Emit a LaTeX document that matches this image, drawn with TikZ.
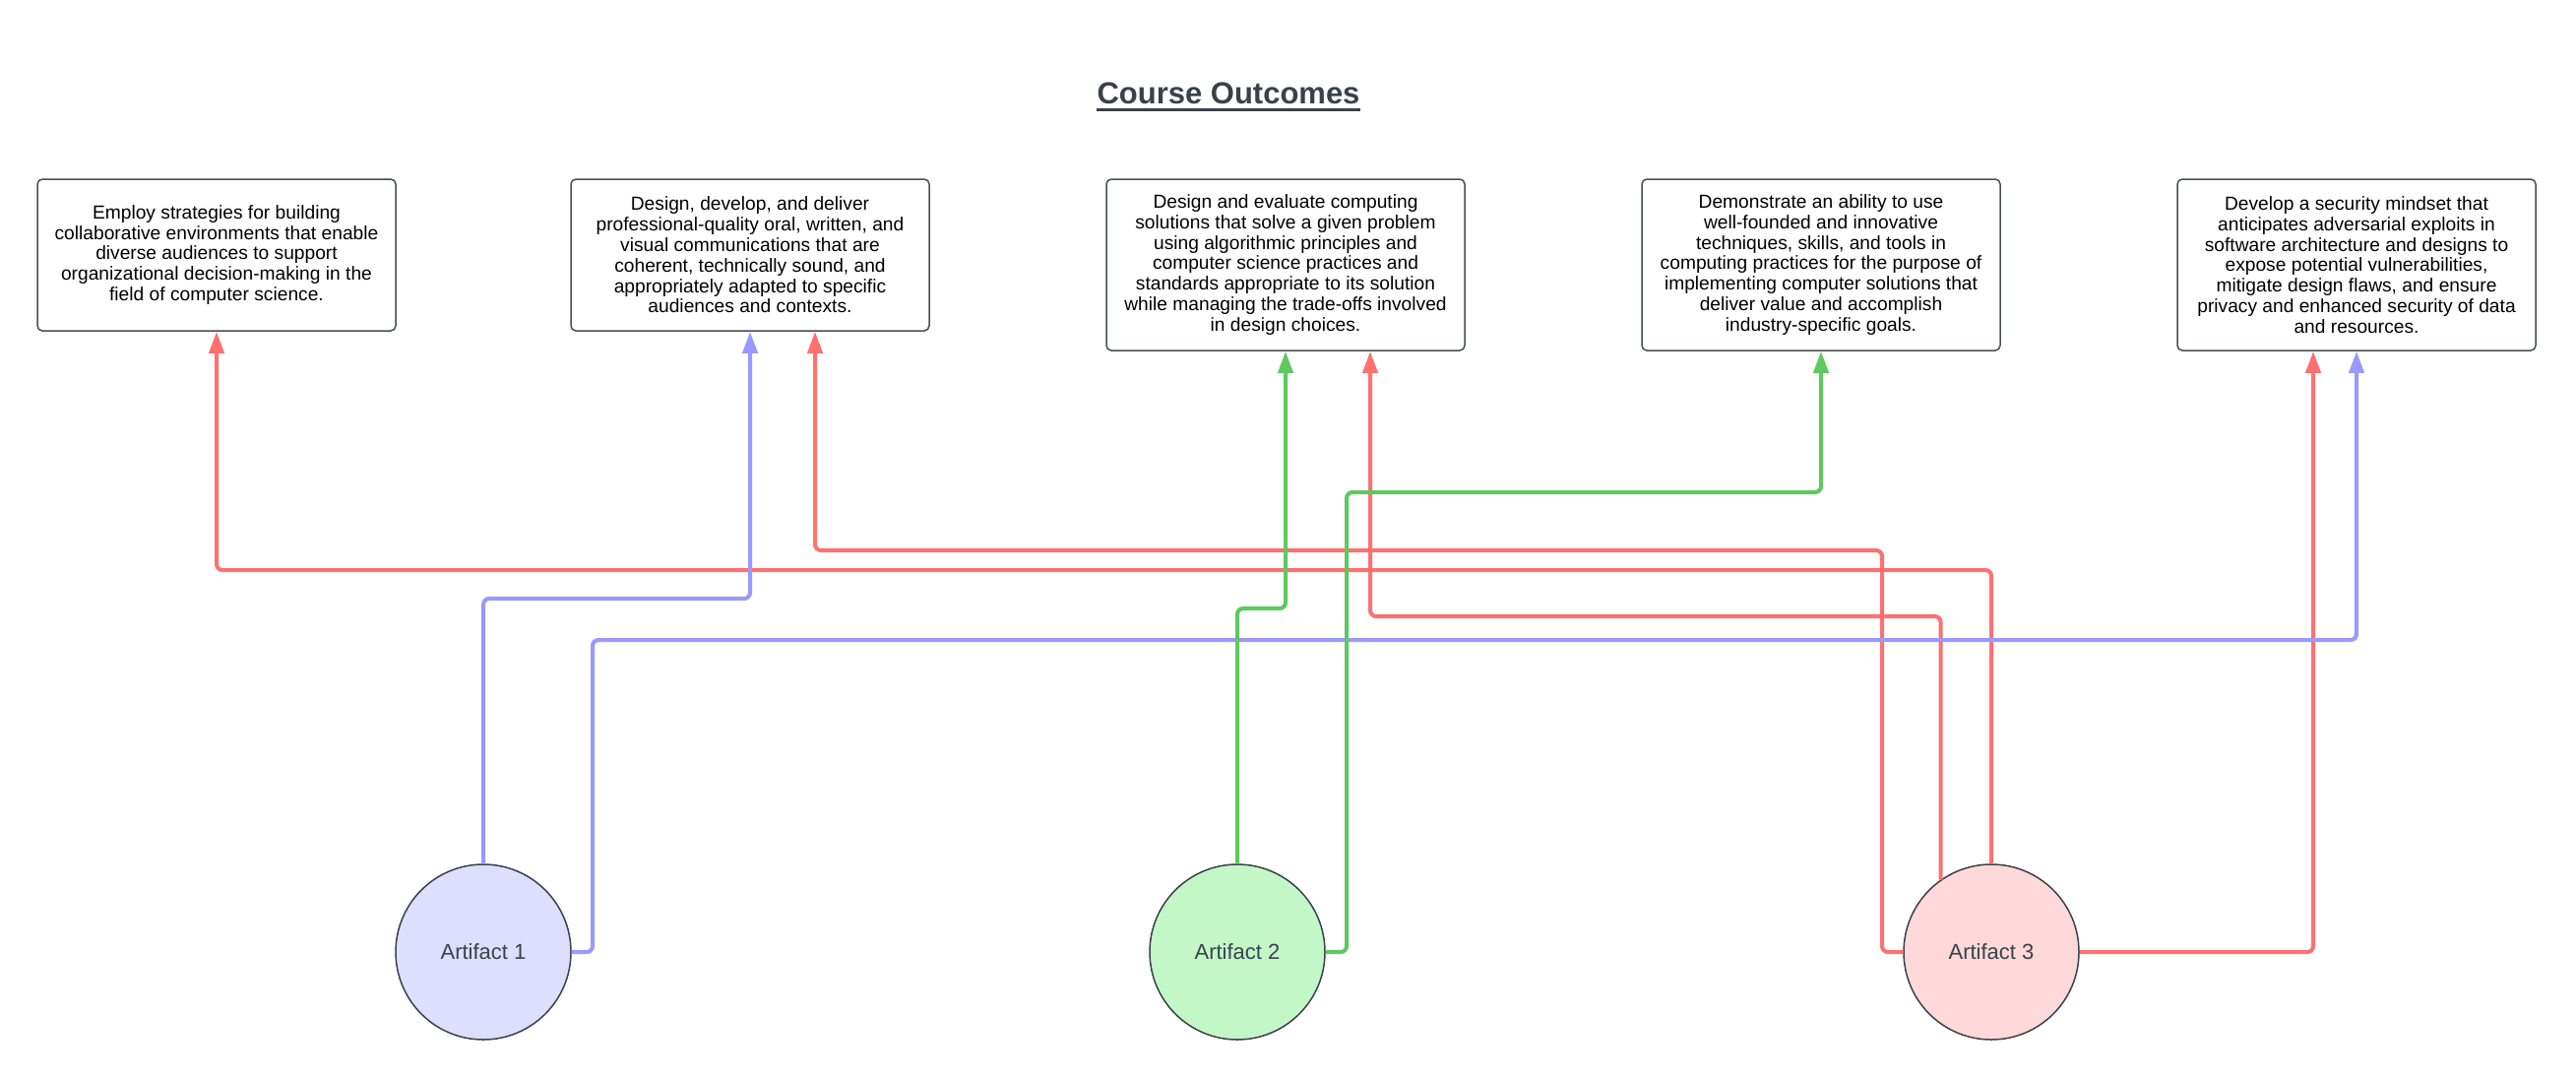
\documentclass[tikz,border=0pt]{standalone}
\usepackage{fontspec}
\setmainfont{Liberation Sans}
\usetikzlibrary{arrows.meta}
\definecolor{ink}{HTML}{3A414A}
\definecolor{boxline}{HTML}{4A4F57}
\definecolor{redln}{HTML}{FF7070}
\definecolor{blueln}{HTML}{9999FF}
\definecolor{greenln}{HTML}{5DC95E}
\definecolor{fillA}{HTML}{DEDEFF}
\definecolor{fillB}{HTML}{C3F7C8}
\definecolor{fillC}{HTML}{FFD9D9}
\begin{document}
\begin{tikzpicture}[x=0.5pt,y=-0.5pt,
  outcome/.style={draw=boxline, line width=0.75pt, rounded corners=2.5pt, fill=white,
    minimum width=182pt, inner sep=0pt, align=center,
    font=\fontsize{9.6}{10.4}\selectfont},
  artifact/.style={circle, draw=ink, line width=0.75pt, minimum size=89pt, inner sep=0pt,
    font=\fontsize{11}{13}\selectfont, text=ink},
  conn/.style={line width=2pt, rounded corners=3pt, -{Triangle[length=11pt,width=7.5pt]}}]
\useasboundingbox (0,0) rectangle (2617,1094);

% title
\node[anchor=base, inner sep=0pt, text=ink, font=\fontsize{15.5}{18}\selectfont\bfseries] (title) at (1248,105) {Course Outcomes};
\draw[ink, line width=1.5pt] ([yshift=-3pt]title.base west) -- ([yshift=-3pt]title.base east);

% outcome boxes
\node[outcome, minimum height=77pt] (B1) at (220,259) {Employ strategies for building\\collaborative environments that enable\\diverse audiences to support\\organizational decision-making in the\\field of computer science.};
\node[outcome, minimum height=77pt] (B2) at (762,259) {Design, develop, and deliver\\professional-quality oral, written, and\\visual communications that are\\coherent, technically sound, and\\appropriately adapted to specific\\audiences and contexts.};
\node[outcome, minimum height=87pt] (B3) at (1306,269) {Design and evaluate computing\\solutions that solve a given problem\\using algorithmic principles and\\computer science practices and\\standards appropriate to its solution\\while managing the trade-offs involved\\in design choices.};
\node[outcome, minimum height=87pt] (B4) at (1850,269) {Demonstrate an ability to use\\well-founded and innovative\\techniques, skills, and tools in\\computing practices for the purpose of\\implementing computer solutions that\\deliver value and accomplish\\industry-specific goals.};
\node[outcome, minimum height=87pt] (B5) at (2394,269) {Develop a security mindset that\\anticipates adversarial exploits in\\software architecture and designs to\\expose potential vulnerabilities,\\mitigate design flaws, and ensure\\privacy and enhanced security of data\\and resources.};

% artifacts
\node[artifact, fill=fillA] (A1) at (491,967) {Artifact 1};
\node[artifact, fill=fillB] (A2) at (1257,967) {Artifact 2};
\node[artifact, fill=fillC] (A3) at (2023,967) {Artifact 3};

% connectors: red (Artifact 3)
\draw[conn, redln] (A3.north) -- (A3.north |- 0,579) -| (B1.south);
\draw[conn, redln] (A3.west) -| (1912,559) -| ([xshift=33pt]B2.south);
\draw[conn, redln] (A3.125.7) -- (A3.125.7 |- 0,626) -| ([xshift=43pt]B3.south);
\draw[conn, redln] (A3.east) -| ([xshift=-22pt]B5.south);

% connectors: blue (Artifact 1)
\draw[conn, blueln] (A1.north) -- (A1.north |- 0,608) -| (B2.south);
\draw[conn, blueln] (A1.east) -| (602,650) -| (B5.south);

% connectors: green (Artifact 2)
\draw[conn, greenln] (A2.north) -- (A2.north |- 0,618) -| (B3.south);
\draw[conn, greenln] (A2.east) -| (1368,500) -| (B4.south);
\end{tikzpicture}
\end{document}
